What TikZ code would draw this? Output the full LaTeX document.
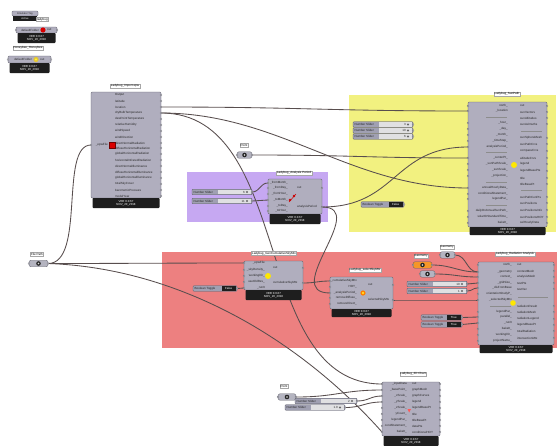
\documentclass[tikz,border=0pt]{standalone}
\usepackage{fontspec}
\setmainfont{Liberation Sans}
\usetikzlibrary{calc}
\pgfdeclarelayer{grp}
\pgfdeclarelayer{wir}
\pgfsetlayers{grp,wir,main}
\definecolor{wirec}{RGB}{88,78,78}
\definecolor{bodyc}{RGB}{176,174,190}
\definecolor{bodyedge}{RGB}{92,92,104}
\definecolor{footc}{RGB}{30,30,30}
\definecolor{yelg}{RGB}{242,241,128}
\definecolor{purg}{RGB}{198,168,242}
\definecolor{redg}{RGB}{237,128,128}
\definecolor{sldc}{RGB}{224,224,226}
\definecolor{sldl}{RGB}{160,160,178}
\definecolor{wgrey}{RGB}{180,180,192}
\definecolor{worange}{RGB}{245,150,40}
\tikzset{
  comp/.style={draw=bodyedge,fill=bodyc,rounded corners=1.2pt,line width=0.3pt},
  plbl/.style={font=\fontsize{3}{3.3}\selectfont,inner sep=0pt,text=black!85},
  ftxt/.style={font=\fontsize{2.9}{3.2}\selectfont,inner sep=0pt,text=white},
  tlbl/.style={draw=gray!70,fill=white,font=\fontsize{3}{3.3}\selectfont,inner sep=0.7pt,line width=0.25pt},
  wire/.style={draw=wirec,line width=0.85pt},
  portc/.style={fill=white!85!gray,draw=bodyedge,line width=0.2pt},
  sep/.style={draw=black!45,line width=0.25pt}
}
\newcommand\ghbody[6]{%
  \draw[comp] (#2,#3) rectangle (#4,#5);
  \fill[footc,rounded corners=0.8pt] ({#2+1.5},#5) rectangle ({#4-1.5},#6);
  \node[ftxt] (#1-ver) at ({(#2+#4)/2},{#5+0.32*(#6-#5)}) {VER 0.0.67};
  \node[ftxt] (#1-date) at ({(#2+#4)/2},{#5+0.72*(#6-#5)}) {NOV\_20\_2018};
}
\newcommand\ghins[4]{%
  \foreach \yv/\lb [count=\cn] in {#4}{%
    \node[plbl,anchor=east] (#1-it\cn) at (#3,\yv) {\lb};
    \coordinate (#1-i\cn) at (#2,\yv);
    \filldraw[portc] (#2,\yv) circle (0.9);
  }}
\newcommand\ghouts[4]{%
  \foreach \yv/\lb [count=\cn] in {#4}{%
    \node[plbl,anchor=west] (#1-ot\cn) at (#3,\yv) {\lb};
    \coordinate (#1-o\cn) at (#2,\yv);
    \filldraw[portc] (#2,\yv) circle (0.9);
  }}
\newcommand\ghslider[5]{%
  \draw[fill=sldl,draw=bodyedge,rounded corners=1pt,line width=0.3pt] (#2,{#4-2.8}) rectangle (#3,{#4+2.8});
  \fill[sldc] ({#2+26},{#4-2.1}) rectangle ({#3-1.5},{#4+2.1});
  \node[plbl,anchor=west] (#1-t) at ({#2+1.5},#4) {Number Slider};
  \node[plbl,anchor=east] (#1-v) at ({#3-7},#4) {#5};
  \fill[black!60] ({#3-5},{#4-1.2}) -- ({#3-3.8},#4) -- ({#3-5},{#4+1.2}) -- ({#3-6.2},#4) -- cycle;
  \coordinate (#1) at (#3,#4);
  \filldraw[portc] (#3,#4) circle (0.9);
}
\newcommand\ghtoggle[5]{%
  \draw[fill=sldl,draw=bodyedge,rounded corners=1pt,line width=0.3pt] (#2,{#4-2.8}) rectangle (#3,{#4+2.8});
  \fill[footc] ({#3-15},{#4-2.2}) rectangle ({#3-1.5},{#4+2.2});
  \node[plbl,anchor=west] (#1-t) at ({#2+1.5},#4) {Boolean Toggle};
  \node[ftxt] (#1-v) at ({#3-8.25},#4) {#5};
  \coordinate (#1) at (#3,#4);
  \filldraw[portc] (#3,#4) circle (0.9);
}
\newcommand\ghparam[5]{%
  \draw[fill=#5,draw=bodyedge,rounded corners=2pt,line width=0.3pt] (#2,{#4-3.2}) rectangle (#3,{#4+3.2});
  \fill[black!85] ({(#2+#3)/2},#4) circle (2.3);
  \fill[white!75!gray] ({(#2+#3)/2},#4) circle (0.9);
  \coordinate (#1) at (#3,#4);
  \filldraw[portc] (#3,#4) circle (0.9);
  \filldraw[portc] (#2,#4) circle (0.9);
}
\begin{document}
\begin{tikzpicture}[x=1pt,y=-1pt]
\useasboundingbox (0,0) rectangle (557,445);
\begin{pgfonlayer}{grp}
\fill[white] (0,0) rectangle (557,445);
\fill[yelg] (349,95) rectangle (556,232);
\fill[purg] (187,172) rectangle (328,222);
\fill[redg] (162,252) rectangle (557,348);
\end{pgfonlayer}

% ---------- top left ----------
\draw[comp] (12,11) rectangle (38,16);
\node[plbl,font=\fontsize{2.6}{3}\selectfont] (tl1a) at (25,13.5) {Emulator Tog};
\fill[footc] (13,16) rectangle (37,21);
\node[ftxt,font=\fontsize{2.6}{3}\selectfont] (tl1b) at (25,18.5) {Active};
\node[tlbl] (tlladybug) at (42.5,19.5) {ladybug};
\ghbody{tlb}{16}{27}{57}{33}{43}
\node[plbl,anchor=east] (tlbin) at (39,30) {defaultFolder};
\fill[red!85!black] (43,30) circle (2.6);
\node[plbl,anchor=west] (tlbout) at (47,30) {out};
\filldraw[portc] (16,30) circle (0.9);
\filldraw[portc] (57,30) circle (0.9);
\node[tlbl] (tlhoney) at (28,48) {Honeybee\_Honeybee};
\ghbody{tlh}{8}{56}{51}{63}{73}
\node[plbl,anchor=east] (tlhin) at (32,59.5) {defaultFolder};
\fill[yellow!55!brown] (36,59.5) circle (2.6);
\fill[yellow!80!white] (36,59.5) circle (1.2);
\node[plbl,anchor=west] (tlhout) at (40,59.5) {out};
\filldraw[portc] (8,59.5) circle (0.9);
\filldraw[portc] (51,59.5) circle (0.9);

% ---------- Import epw ----------
\node[tlbl] (epwlbl) at (125,86) {Ladybug\_Import epw};
\ghbody{epw}{91}{92}{161}{198}{208}
\ghins{epw}{91}{108}{145/\_epwFile}
\filldraw[fill=red!85!black,draw=red!45!black,line width=0.3pt] (109,142) rectangle (115,148);
\ghouts{epw}{161}{115}{95/Output,101/latitude,107/location,113/dryBulbTemperature,119/dewPointTemperature,125/relativeHumidity,131/windSpeed,137/windDirection,143/directNormalRadiation,148/diffuseHorizontalRadiation,154/globalHorizontalRadiation,160/horizontalInfraredRadiation,166/directNormalIlluminance,172/diffuseHorizontalIlluminance,178/globalHorizontalIlluminance,184/totalSkyCover,190/barometricPressure,196/modelYear}

% ---------- File Path ----------
\node[tlbl] (fplbl) at (37,254) {File Path};
\ghparam{fp}{29}{48}{263.5}{wgrey}

% ---------- Point (top) ----------
\node[tlbl] (pt1lbl) at (244,145) {Point};
\ghparam{pt1}{237}{252}{155}{wgrey}

% ---------- Analysis Period ----------
\node[tlbl] (aplbl) at (294,173) {Ladybug\_Analysis Period};
\ghbody{ap}{268}{179}{322}{214}{224}
\ghins{ap}{268}{288}{183/\_fromMonth\_,188/\_fromDay\_,194/\_fromHour\_,200/\_toMonth\_,206/\_toDay\_,211/\_toHour\_}
\ghouts{ap}{322}{297}{188/out,207/analysisPeriod}
\fill[red!80!black] (290,200) circle (1.4);
\fill[red!80!black] (294,196) circle (1.4);
\draw[red!80!black,line width=0.5pt] (289,202) -- (296,194);
\ghslider{aps1}{192}{252}{192}{6}
\ghslider{aps2}{192}{252}{201}{11}

% ---------- SunPath ----------
\node[tlbl] (sunlbl) at (507,94) {Ladybug\_SunPath};
\ghbody{sun}{468}{102}{547}{227}{235}
\ghins{sun}{468}{508}{106/north\_,111/\_location,123/\_hour\_,129/\_day\_,135/\_month\_,141/\_timeStep\_,147/analysisPeriod\_,158/\_centerPt\_,164/\_sunPathScale\_,170/\_sunScale\_,176/\_projection\_,188/annualHourlyData\_,194/conditionalStatement\_,199/legendPar\_,211/dailyOrAnnualSunPath\_,217/solarOrStandardTime\_,223/bakeIt\_}
\ghouts{sun}{547}{520}{106/out,112/sunVectors,118/sunAltitudes,124/sunAzimuths,138/sunSphereMesh,144/sunPathCrvs,151/compassCrvs,158/altitudeCrvs,164/legend,171/legendBasePts,178/title,184/titleBasePt,197/sunPathCenPts,203/sunPositions,210/sunPositionsInfo,217/sunPositionsHOY,223/selHourlyData}
\draw[sep] (486,117) -- (507,117);
\draw[sep] (486,152.5) -- (507,152.5);
\draw[sep] (486,182) -- (507,182);
\draw[sep] (486,205) -- (507,205);
\draw[sep] (521,131) -- (542,131);
\draw[sep] (521,190.5) -- (542,190.5);
\fill[yellow!90!orange] (514,165) circle (3);
\ghslider{suns1}{353}{413}{124.5}{3}
\ghslider{suns2}{353}{413}{130.5}{10}
\ghslider{suns3}{353}{413}{136.5}{6}
\ghtoggle{suntog}{361}{404}{204.5}{False}

% ---------- GenCumulativeSkyMtx ----------
\node[tlbl] (gclbl) at (274,253.5) {Ladybug\_GenCumulativeSkyMtx};
\ghbody{gc}{244}{261}{303}{290}{300}
\ghins{gc}{244}{265}{263/\_epwFile,270/\_skyDensity\_,276/workingDir\_,282/useOldRes\_,288/\_runIt}
\ghouts{gc}{303}{273}{268/out,283/cumulativeSkyMtx}
\fill[yellow!90!orange] (268,276) circle (3);
\ghtoggle{gctog}{193}{237}{288.5}{False}

% ---------- selectSkyMtx ----------
\node[tlbl] (sellbl) at (365,270) {Ladybug\_selectSkyMtx};
\ghbody{sel}{330}{277}{393}{309}{317}
\ghins{sel}{330}{357}{281/\_cumulativeSkyMtx,287/HOY\_,293/\_analysisPeriod\_,298/removeDiffuse\_,304/removeDirect\_}
\ghouts{sel}{393}{368}{285/out,300/selectedSkyMtx}
\fill[orange] (363,293) circle (2.6);
\fill[yellow!80!white] (363,293) circle (1.1);

% ---------- Radiation Analysis ----------
\node[tlbl] (geo1lbl) at (447,247) {Geometry};
\ghparam{geo1}{440}{455}{255}{wgrey}
\node[tlbl] (geo2lbl) at (421,256) {Geometry};
\ghparam{geo2}{413}{432}{265}{worange}
\ghparam{geo3}{420}{435}{274}{wgrey}
\ghslider{rads1}{407}{467}{284}{10}
\ghslider{rads2}{407}{467}{291}{1}
\ghtoggle{radt1}{421}{462}{317.5}{True}
\ghtoggle{radt2}{421}{462}{324.5}{True}
\node[tlbl] (radlbl) at (515,254) {Ladybug\_Radiation Analysis};
\ghbody{rad}{478}{262}{554}{345}{353}
\ghins{rad}{478}{512}{265/north\_,272/\_geometry,277/context\_,283/\_gridSize\_,288/\_disFromBase,294/orientationStudyP\_,300/\_selectedSkyMtx,312/legendPar\_,317/parallel\_,323/\_runIt,329/bakeIt\_,335/workingDir\_,341/projectName\_}
\ghouts{rad}{554}{517}{265/out,271/contextMesh,277/analysisMesh,283/testPts,289/testVec,306/radiationResult,312/radiationMesh,319/radiationLegend,325/legendBasePt,331/totalRadiation,338/intersectionMtx}
\draw[sep] (490,306) -- (511,306);
\draw[sep] (518,297) -- (548,297);
\fill[yellow!90!orange] (513,303) circle (2.8);

% ---------- 3D Chart ----------
\node[tlbl] (chlbl) at (413,374) {Ladybug\_3D Chart};
\ghbody{ch}{382}{382}{440}{436}{446}
\ghins{ch}{382}{407}{384/\_inputData,390/\_basePoint\_,396/\_xScale\_,402/\_yScale\_,408/\_zScale\_,414/yCount\_,420/legendPar\_,426/condStatement\_,432/bakeIt\_}
\ghouts{ch}{440}{412}{384/out,390/graphMesh,396/graphCurves,402/legend,408/legendBasePt,414/title,420/titleBasePt,426/dataPts,432/conditionalHOY}
\fill[red!65] (407.5,409) -- (411,409) -- (409.2,412.5) -- cycle;
\node[tlbl] (pt2lbl) at (284,386) {Point};
\ghparam{pt2}{278}{296}{397}{wgrey}
\ghslider{chs1}{295}{357}{401}{2}
\ghslider{chs2}{285}{345}{407.5}{1.0}

% ---------- wires ----------
\begin{pgfonlayer}{wir}
\draw[wire] (fp) .. controls +(38,0) and +(-32,0) .. (epw-i1);
\draw[wire] (fp) .. controls +(70,0) and +(-70,0) .. (gc-i1);
\draw[wire] (fp) .. controls (180,268) and (300,340) .. (ch-i9);
\draw[wire] (epw-o3) .. controls +(140,0) and +(-140,0) .. (sun-i2);
\draw[wire] (epw-o4) .. controls (280,113) and (350,188) .. (sun-i12);
\draw[wire] (epw-o4) .. controls (295,113) and (250,384) .. (ch-i1);
\draw[wire] (pt1) .. controls +(100,0) and +(-100,0) .. (sun-i8);
\draw[wire] (ap-o2) .. controls +(75,0) and +(-75,0) .. (sun-i7);
\draw[wire] (ap-o2) .. controls (370,207) and (280,293) .. (sel-i3);
\draw[wire] (gc-o2) .. controls +(12,0) and +(-12,0) .. (sel-i1);
\draw[wire] (aps1) .. controls +(8,0) and +(-8,0) .. (ap-i1);
\draw[wire] (aps2) .. controls +(8,0) and +(-8,0) .. (ap-i4);
\draw[wire] (gctog) .. controls +(4,0) and +(-4,0) .. (gc-i5);
\draw[wire] (sel-o2) .. controls +(40,0) and +(-40,0) .. (rad-i7);
\draw[wire] (geo1) .. controls +(12,0) and +(-12,0) .. (rad-i2);
\draw[wire] (geo2) .. controls +(20,0) and +(-20,0) .. (rad-i2);
\draw[wire] (geo3) .. controls +(20,0) and +(-20,0) .. (rad-i3);
\draw[wire] (rads1) .. controls +(6,0) and +(-6,0) .. (rad-i4);
\draw[wire] (rads2) .. controls +(6,0) and +(-6,0) .. (rad-i5);
\draw[wire] (radt1) .. controls +(8,0) and +(-8,0) .. (rad-i9);
\draw[wire] (radt2) .. controls +(8,0) and +(-8,0) .. (rad-i10);
\draw[wire] (pt2) .. controls +(40,0) and +(-40,0) .. (ch-i2);
\draw[wire] (chs1) .. controls +(12,0) and +(-12,0) .. (ch-i3);
\draw[wire] (chs2) .. controls +(18,0) and +(-18,0) .. (ch-i4);
\end{pgfonlayer}
\end{tikzpicture}
\end{document}
